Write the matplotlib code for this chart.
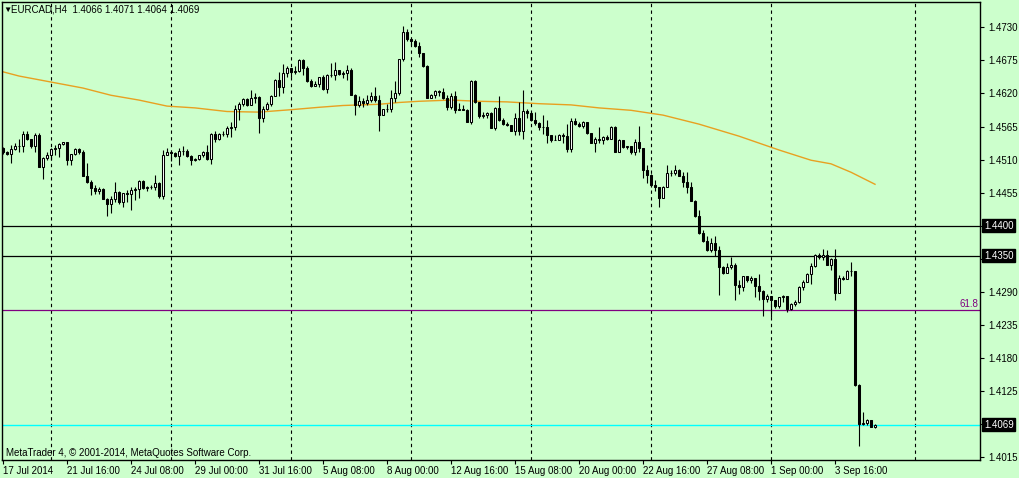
import numpy as np
import matplotlib
matplotlib.use("Agg")
import matplotlib.pyplot as plt
import matplotlib.transforms as mtransforms

plt.rcParams['font.family'] = ['Liberation Sans', 'DejaVu Sans']

# EURCAD H4 - cierres, maximos y minimos por vela (lectura del grafico)
symbol = "EURCAD,H4"
first_open = 1.4529
last_open = 1.4066

closes = [
    1.4523, 1.4519, 1.4527, 1.4533, 1.4532, 1.4553, 1.4544, 1.4532, 1.4551, 1.4498,
    1.4512, 1.4518, 1.4527, 1.4530, 1.4536, 1.4539, 1.4509, 1.4519, 1.4527, 1.4523,
    1.4483, 1.4472, 1.4463, 1.4457, 1.4461, 1.4445, 1.4436, 1.4445, 1.4456, 1.4439,
    1.4454, 1.4452, 1.4460, 1.4461, 1.4475, 1.4462, 1.4464, 1.4464, 1.4471, 1.4450,
    1.4518, 1.4522, 1.4521, 1.4516, 1.4525, 1.4525, 1.4516, 1.4510, 1.4511, 1.4517,
    1.4523, 1.4511, 1.4553, 1.4545, 1.4553, 1.4553, 1.4562, 1.4564, 1.4594, 1.4603,
    1.4610, 1.4601, 1.4612, 1.4614, 1.4580, 1.4595, 1.4603, 1.4616, 1.4642, 1.4630,
    1.4654, 1.4662, 1.4656, 1.4658, 1.4675, 1.4662, 1.4640, 1.4633, 1.4636, 1.4647,
    1.4627, 1.4651, 1.4651, 1.4659, 1.4652, 1.4654, 1.4659, 1.4618, 1.4601, 1.4608,
    1.4604, 1.4609, 1.4616, 1.4609, 1.4585, 1.4594, 1.4595, 1.4612, 1.4620, 1.4677,
    1.4723, 1.4711, 1.4707, 1.4699, 1.4687, 1.4665, 1.4613, 1.4618, 1.4624, 1.4623,
    1.4612, 1.4598, 1.4615, 1.4593, 1.4594, 1.4593, 1.4573, 1.4641, 1.4605, 1.4582,
    1.4584, 1.4587, 1.4563, 1.4596, 1.4576, 1.4569, 1.4568, 1.4558, 1.4579, 1.4558,
    1.4591, 1.4587, 1.4576, 1.4571, 1.4564, 1.4564, 1.4551, 1.4543, 1.4543, 1.4551,
    1.4549, 1.4527, 1.4575, 1.4569, 1.4566, 1.4572, 1.4554, 1.4538, 1.4545, 1.4542,
    1.4548, 1.4545, 1.4565, 1.4523, 1.4543, 1.4531, 1.4532, 1.4523, 1.4540, 1.4529,
    1.4492, 1.4485, 1.4468, 1.4464, 1.4446, 1.4465, 1.4488, 1.4488, 1.4493, 1.4483,
    1.4472, 1.4464, 1.4442, 1.4416, 1.4388, 1.4374, 1.4359, 1.4372, 1.4360, 1.4332,
    1.4322, 1.4331, 1.4335, 1.4302, 1.4299, 1.4316, 1.4310, 1.4313, 1.4300, 1.4292,
    1.4278, 1.4283, 1.4276, 1.4266, 1.4281, 1.4283, 1.4261, 1.4270, 1.4274, 1.4298,
    1.4307, 1.4320, 1.4333, 1.4352, 1.4348, 1.4352, 1.4335, 1.4344, 1.4288, 1.4313,
    1.4311, 1.4324, 1.4324, 1.4135, 1.4070, 1.4072, 1.4077, 1.4066, 1.4069,
]

highs = [
    1.4531, 1.4525, 1.4534, 1.4537, 1.4544, 1.4557, 1.4558, 1.4545, 1.4554, 1.4554,
    1.4514, 1.4523, 1.4529, 1.4534, 1.4538, 1.4540, 1.4540, 1.4520, 1.4530, 1.4530,
    1.4526, 1.4504, 1.4476, 1.4468, 1.4464, 1.4462, 1.4446, 1.4449, 1.4472, 1.4457,
    1.4455, 1.4460, 1.4464, 1.4464, 1.4476, 1.4476, 1.4466, 1.4468, 1.4485, 1.4472,
    1.4526, 1.4529, 1.4526, 1.4523, 1.4529, 1.4532, 1.4527, 1.4518, 1.4512, 1.4518,
    1.4525, 1.4534, 1.4554, 1.4558, 1.4555, 1.4557, 1.4566, 1.4573, 1.4601, 1.4605,
    1.4612, 1.4612, 1.4626, 1.4620, 1.4615, 1.4599, 1.4606, 1.4618, 1.4644, 1.4655,
    1.4669, 1.4666, 1.4662, 1.4665, 1.4677, 1.4677, 1.4665, 1.4644, 1.4640, 1.4648,
    1.4651, 1.4652, 1.4671, 1.4672, 1.4659, 1.4657, 1.4668, 1.4662, 1.4619, 1.4615,
    1.4612, 1.4618, 1.4623, 1.4631, 1.4618, 1.4595, 1.4602, 1.4626, 1.4640, 1.4678,
    1.4733, 1.4727, 1.4712, 1.4711, 1.4705, 1.4687, 1.4667, 1.4619, 1.4625, 1.4626,
    1.4629, 1.4618, 1.4620, 1.4624, 1.4604, 1.4600, 1.4594, 1.4642, 1.4643, 1.4606,
    1.4590, 1.4590, 1.4590, 1.4598, 1.4615, 1.4580, 1.4573, 1.4568, 1.4587, 1.4606,
    1.4625, 1.4594, 1.4590, 1.4590, 1.4573, 1.4584, 1.4576, 1.4551, 1.4551, 1.4552,
    1.4555, 1.4570, 1.4579, 1.4579, 1.4573, 1.4575, 1.4572, 1.4554, 1.4548, 1.4565,
    1.4549, 1.4551, 1.4566, 1.4566, 1.4544, 1.4543, 1.4533, 1.4533, 1.4544, 1.4566,
    1.4529, 1.4501, 1.4486, 1.4476, 1.4465, 1.4466, 1.4501, 1.4493, 1.4501, 1.4494,
    1.4490, 1.4490, 1.4472, 1.4443, 1.4426, 1.4393, 1.4383, 1.4379, 1.4383, 1.4366,
    1.4333, 1.4338, 1.4348, 1.4338, 1.4309, 1.4317, 1.4316, 1.4316, 1.4313, 1.4320,
    1.4294, 1.4287, 1.4284, 1.4277, 1.4282, 1.4285, 1.4284, 1.4272, 1.4277, 1.4300,
    1.4310, 1.4322, 1.4338, 1.4353, 1.4354, 1.4361, 1.4360, 1.4346, 1.4361, 1.4318,
    1.4317, 1.4327, 1.4339, 1.4325, 1.4137, 1.4091, 1.4078, 1.4077, 1.4071,
]

lows = [
    1.4520, 1.4518, 1.4504, 1.4526, 1.4522, 1.4522, 1.4542, 1.4530, 1.4523, 1.4498,
    1.4477, 1.4509, 1.4510, 1.4518, 1.4514, 1.4534, 1.4501, 1.4501, 1.4518, 1.4520,
    1.4482, 1.4471, 1.4451, 1.4453, 1.4453, 1.4444, 1.4416, 1.4421, 1.4440, 1.4437,
    1.4431, 1.4439, 1.4427, 1.4443, 1.4447, 1.4461, 1.4458, 1.4461, 1.4460, 1.4447,
    1.4445, 1.4518, 1.4508, 1.4515, 1.4501, 1.4518, 1.4514, 1.4501, 1.4507, 1.4510,
    1.4514, 1.4510, 1.4503, 1.4540, 1.4543, 1.4549, 1.4547, 1.4547, 1.4559, 1.4576,
    1.4599, 1.4599, 1.4601, 1.4604, 1.4554, 1.4572, 1.4593, 1.4599, 1.4615, 1.4615,
    1.4620, 1.4647, 1.4648, 1.4652, 1.4656, 1.4651, 1.4639, 1.4631, 1.4632, 1.4631,
    1.4626, 1.4620, 1.4648, 1.4642, 1.4650, 1.4645, 1.4642, 1.4617, 1.4584, 1.4598,
    1.4598, 1.4601, 1.4605, 1.4606, 1.4557, 1.4584, 1.4590, 1.4590, 1.4605, 1.4618,
    1.4674, 1.4707, 1.4701, 1.4698, 1.4681, 1.4664, 1.4612, 1.4612, 1.4613, 1.4615,
    1.4611, 1.4593, 1.4595, 1.4587, 1.4593, 1.4592, 1.4572, 1.4570, 1.4604, 1.4579,
    1.4580, 1.4579, 1.4562, 1.4559, 1.4575, 1.4568, 1.4566, 1.4557, 1.4551, 1.4551,
    1.4544, 1.4580, 1.4575, 1.4568, 1.4559, 1.4553, 1.4537, 1.4540, 1.4542, 1.4543,
    1.4538, 1.4523, 1.4523, 1.4568, 1.4565, 1.4562, 1.4553, 1.4537, 1.4523, 1.4537,
    1.4536, 1.4543, 1.4544, 1.4522, 1.4522, 1.4530, 1.4527, 1.4519, 1.4518, 1.4523,
    1.4479, 1.4471, 1.4464, 1.4457, 1.4431, 1.4446, 1.4464, 1.4483, 1.4484, 1.4482,
    1.4464, 1.4455, 1.4441, 1.4414, 1.4387, 1.4373, 1.4358, 1.4357, 1.4350, 1.4285,
    1.4320, 1.4321, 1.4328, 1.4277, 1.4287, 1.4291, 1.4306, 1.4304, 1.4282, 1.4277,
    1.4250, 1.4274, 1.4249, 1.4264, 1.4263, 1.4274, 1.4256, 1.4260, 1.4267, 1.4271,
    1.4293, 1.4306, 1.4303, 1.4332, 1.4344, 1.4343, 1.4334, 1.4327, 1.4277, 1.4288,
    1.4310, 1.4313, 1.4317, 1.4134, 1.4034, 1.4069, 1.4069, 1.4066, 1.4064,
]

ma_bars = [0, 4, 12, 20, 27, 34, 41, 48, 56, 64, 72, 79, 85, 94, 99, 104, 112, 119,
           126, 134, 142, 149, 157, 165, 174, 184, 194, 202, 207, 212, 218]
ma_values = [1.4656, 1.4649, 1.4639, 1.4629, 1.4617, 1.4609, 1.4599, 1.4596, 1.4590,
             1.4589, 1.4593, 1.4597, 1.4600, 1.4602, 1.4605, 1.4607, 1.4609, 1.4607,
             1.4606, 1.4603, 1.4601, 1.4596, 1.4592, 1.4584, 1.4569, 1.4549, 1.4526,
             1.4509, 1.4503, 1.4489, 1.4469]

date_labels = ["17 Jul 2014", "21 Jul 16:00", "24 Jul 08:00", "29 Jul 00:00",
               "31 Jul 16:00", "5 Aug 08:00", "8 Aug 00:00", "12 Aug 16:00",
               "15 Aug 08:00", "20 Aug 00:00", "22 Aug 16:00", "27 Aug 08:00",
               "1 Sep 00:00", "3 Sep 16:00"]
grid_bars = [12, 42, 72, 102, 132, 162, 192, 228]

level_black = [1.4400, 1.4350]
fibo_level = 1.4260
bid = 1.4069

price_ticks = [1.4015, 1.4070, 1.4125, 1.4180, 1.4235, 1.4290, 1.4345,
               1.4400, 1.4455, 1.4510, 1.4565, 1.4620, 1.4675, 1.4730]

# ------------------------------------------------------------------
closes = np.array(closes)
highs = np.array(highs)
lows = np.array(lows)
opens = np.concatenate([[first_open], closes[:-1]])
opens[-1] = last_open
highs = np.maximum(highs, np.maximum(opens, closes))
lows = np.minimum(lows, np.minimum(opens, closes))
x = np.arange(len(closes))

W, H = 1020, 478
fig = plt.figure(figsize=(W / 100, H / 100), dpi=100)
bg = '#CCFFCC'
fig.patch.set_facecolor(bg)
ax = fig.add_axes([2 / W, (H - 460) / H, 978 / W, 458 / H])
ax.set_facecolor(bg)

ax.set_xlim(-0.25, 244.25)
ax.set_ylim(1.40105, 1.47721)

# grilla vertical
for g in grid_bars:
    ax.axvline(g, color='black', lw=0.8, linestyle=(0, (3, 3)), zorder=1)

# lineas horizontales
for lv in level_black:
    ax.axhline(lv, color='black', lw=0.9, zorder=2)
ax.axhline(fibo_level, color='#800080', lw=0.9, zorder=2)
ax.axhline(bid, color='#00FFFF', lw=1.0, zorder=2)

# media movil
ax.plot(ma_bars, ma_values, color='#E8A020', lw=1.0, zorder=2)

# velas
ax.vlines(x, lows, highs, color='black', lw=0.8, zorder=3)
bull = closes >= opens
fill = np.where(bull, 'white', 'black')
ax.bar(x, np.abs(closes - opens), bottom=np.minimum(opens, closes), width=0.55,
       color=fill, edgecolor='black', linewidth=0.75, zorder=4)

# ejes
for s in ax.spines.values():
    s.set_color('black')
    s.set_linewidth(1.0)

ax.set_xticks(np.arange(len(date_labels)) * 16)
ax.set_xticklabels(date_labels)
for lab in ax.get_xticklabels():
    lab.set_ha('left')
ax.tick_params(axis='x', direction='out', length=3, width=0.8, pad=1.5, labelsize=7)

# las etiquetas tapadas por las cajas de precio quedan vacias
covered = [1.4070, 1.4345, 1.4400]
ax.yaxis.tick_right()
ax.set_yticks(price_ticks)
ax.set_yticklabels(["" if p in covered else "%.4f" % p for p in price_ticks])
ax.tick_params(axis='y', direction='out', length=3, width=0.8, pad=3, labelsize=7)

# etiquetas de precio en cajas negras
trans = mtransforms.blended_transform_factory(ax.transAxes, ax.transData)
for p in level_black + [bid]:
    ax.text(1.0 + 4 / 978, p, "%.4f" % p, transform=trans, ha='left', va='center',
            fontsize=7, color='white', clip_on=False, zorder=10,
            bbox=dict(facecolor='black', edgecolor='black', pad=1.2))

ax.text(1.0 - 2 / 978, fibo_level + 0.0002, "61.8", transform=trans, ha='right',
        va='bottom', fontsize=7, color='#800080')

# textos
fig.text(3 / W, 1 - 10 / H, "\u25BC", fontsize=6, va='center', ha='left')
fig.text(11 / W, 1 - 10 / H,
         "%s  %.4f %.4f %.4f %.4f" % (symbol, opens[-1], highs[-1], lows[-1], closes[-1]),
         fontsize=7, va='center', ha='left')
fig.text(6 / W, 1 - 453 / H, "MetaTrader 4, \u00A9 2001-2014, MetaQuotes Software Corp.",
         fontsize=7, va='center', ha='left')

fig.savefig("out.png", dpi=100, facecolor=bg)
